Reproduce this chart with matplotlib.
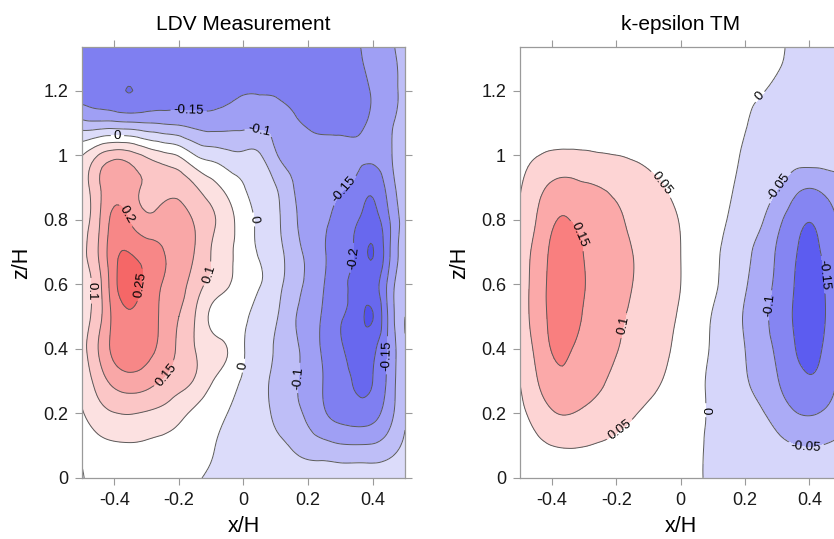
import numpy as np
import matplotlib
matplotlib.use("Agg")
import matplotlib.pyplot as plt
import matplotlib.tri as mtri
from matplotlib.ticker import FuncFormatter

plt.rcParams['font.family'] = ['Liberation Sans', 'DejaVu Sans']
plt.rcParams['axes.unicode_minus'] = False
plt.rcParams['contour.negative_linestyle'] = 'solid'

# grid of the read-off values (x/H across, z/H up)
x_h = [-0.5, -0.45, -0.4, -0.35, -0.3, -0.25, -0.2, -0.15, -0.1, -0.05, 0.0,
       0.05, 0.1, 0.15, 0.2, 0.25, 0.3, 0.35, 0.4, 0.45, 0.5]
z_h = [0.0, 0.1, 0.2, 0.3, 0.4, 0.5, 0.6, 0.7, 0.8, 0.9, 1.0, 1.1, 1.2, 1.3, 1.4]

# LDV measurement, one row per z/H
ldv_z00 = [-0.002, 0.008, 0.012, 0.014, 0.013, 0.011, 0.008, 0.003, -0.004, -0.008, -0.01, -0.011, -0.012, -0.013, -0.013, -0.013, -0.013, -0.013, -0.013, -0.012, -0.008]
ldv_z01 = [0.012, 0.035, 0.044, 0.046, 0.043, 0.037, 0.028, 0.015, 0.003, -0.008, -0.018, -0.026, -0.036, -0.055, -0.075, -0.085, -0.095, -0.097, -0.095, -0.075, -0.04]
ldv_z02 = [0.045, 0.08, 0.098, 0.102, 0.095, 0.085, 0.065, 0.038, 0.015, 0.0, -0.012, -0.03, -0.06, -0.085, -0.11, -0.145, -0.168, -0.178, -0.17, -0.12, -0.055]
ldv_z03 = [0.065, 0.12, 0.165, 0.18, 0.17, 0.145, 0.12, 0.095, 0.055, 0.02, -0.005, -0.03, -0.063, -0.088, -0.12, -0.153, -0.185, -0.205, -0.2, -0.135, -0.055]
ldv_z04 = [0.08, 0.15, 0.215, 0.235, 0.215, 0.185, 0.14, 0.1, 0.075, 0.05, 0.003, -0.025, -0.055, -0.085, -0.12, -0.16, -0.195, -0.215, -0.21, -0.14, -0.055]
ldv_z05 = [0.08, 0.13, 0.215, 0.245, 0.225, 0.19, 0.15, 0.1, 0.04, 0.02, 0.008, -0.02, -0.045, -0.09, -0.12, -0.16, -0.196, -0.225, -0.252, -0.14, -0.05]
ldv_z06 = [0.08, 0.13, 0.235, 0.27, 0.235, 0.198, 0.17, 0.125, 0.085, 0.055, 0.025, 0.002, -0.03, -0.075, -0.11, -0.15, -0.19, -0.215, -0.225, -0.135, -0.055]
ldv_z07 = [0.085, 0.15, 0.235, 0.248, 0.228, 0.203, 0.175, 0.148, 0.099, 0.06, 0.03, -0.005, -0.03, -0.075, -0.11, -0.145, -0.185, -0.21, -0.252, -0.16, -0.07]
ldv_z08 = [0.075, 0.14, 0.215, 0.195, 0.16, 0.168, 0.17, 0.145, 0.11, 0.07, 0.025, -0.01, -0.038, -0.085, -0.12, -0.14, -0.17, -0.195, -0.22, -0.155, -0.075]
ldv_z09 = [0.07, 0.14, 0.185, 0.165, 0.145, 0.14, 0.135, 0.105, 0.07, 0.035, 0.003, -0.025, -0.048, -0.095, -0.12, -0.13, -0.145, -0.165, -0.19, -0.13, -0.065]
ldv_z10 = [0.048, 0.1, 0.13, 0.12, 0.09, 0.065, 0.045, 0.0, -0.02, -0.035, -0.04, -0.046, -0.095, -0.12, -0.13, -0.135, -0.135, -0.14, -0.14, -0.11, -0.05]
ldv_z11 = [-0.085, -0.09, -0.09, -0.095, -0.1, -0.105, -0.11, -0.12, -0.125, -0.12, -0.115, -0.115, -0.12, -0.14, -0.155, -0.16, -0.162, -0.16, -0.14, -0.11, -0.075]
ldv_z12 = [-0.17, -0.175, -0.188, -0.2008, -0.185, -0.175, -0.17, -0.168, -0.165, -0.16, -0.153, -0.153, -0.157, -0.165, -0.172, -0.175, -0.175, -0.167, -0.145, -0.115, -0.09]
ldv_z13 = [-0.17, -0.172, -0.175, -0.175, -0.172, -0.17, -0.17, -0.17, -0.17, -0.17, -0.168, -0.168, -0.17, -0.17, -0.17, -0.17, -0.17, -0.16, -0.13, -0.11, -0.085]
ldv_z14 = [-0.17, -0.17, -0.172, -0.172, -0.17, -0.17, -0.17, -0.17, -0.17, -0.17, -0.168, -0.168, -0.17, -0.17, -0.17, -0.17, -0.168, -0.155, -0.125, -0.105, -0.08]

# k-epsilon turbulence model, one row per z/H
kep_z00 = [0.015, 0.022, 0.027, 0.028, 0.027, 0.024, 0.02, 0.015, 0.011, 0.007, 0.003, 0.001, -0.002, -0.006, -0.01, -0.015, -0.02, -0.025, -0.027, -0.025, -0.021]
kep_z01 = [0.025, 0.04, 0.05, 0.053, 0.051, 0.046, 0.038, 0.028, 0.02, 0.013, 0.007, 0.002, -0.003, -0.01, -0.018, -0.027, -0.038, -0.048, -0.052, -0.048, -0.04]
kep_z02 = [0.038, 0.068, 0.095, 0.102, 0.092, 0.082, 0.07, 0.055, 0.04, 0.028, 0.015, 0.005, -0.005, -0.018, -0.03, -0.045, -0.07, -0.095, -0.104, -0.093, -0.07]
kep_z03 = [0.051, 0.095, 0.13, 0.138, 0.12, 0.105, 0.09, 0.077, 0.063, 0.047, 0.03, 0.012, -0.01, -0.025, -0.045, -0.068, -0.097, -0.128, -0.145, -0.128, -0.085]
kep_z04 = [0.068, 0.11, 0.153, 0.155, 0.135, 0.118, 0.102, 0.087, 0.072, 0.056, 0.04, 0.02, -0.006, -0.025, -0.05, -0.08, -0.108, -0.145, -0.163, -0.143, -0.105]
kep_z05 = [0.075, 0.12, 0.163, 0.175, 0.145, 0.128, 0.11, 0.093, 0.077, 0.062, 0.045, 0.025, -0.003, -0.025, -0.055, -0.085, -0.118, -0.152, -0.172, -0.15, -0.112]
kep_z06 = [0.075, 0.12, 0.165, 0.18, 0.152, 0.133, 0.118, 0.1, 0.083, 0.066, 0.05, 0.03, 0.007, -0.015, -0.045, -0.078, -0.11, -0.148, -0.17, -0.148, -0.11]
kep_z07 = [0.072, 0.115, 0.16, 0.172, 0.148, 0.13, 0.115, 0.1, 0.083, 0.066, 0.05, 0.032, 0.01, -0.012, -0.038, -0.068, -0.105, -0.142, -0.162, -0.14, -0.105]
kep_z08 = [0.058, 0.1, 0.143, 0.151, 0.135, 0.115, 0.105, 0.093, 0.078, 0.063, 0.048, 0.035, 0.018, -0.003, -0.025, -0.045, -0.085, -0.125, -0.148, -0.125, -0.09]
kep_z09 = [0.047, 0.08, 0.11, 0.118, 0.108, 0.1, 0.09, 0.078, 0.065, 0.05, 0.037, 0.026, 0.016, 0.004, -0.012, -0.028, -0.047, -0.08, -0.098, -0.085, -0.065]
kep_z10 = [0.036, 0.048, 0.056, 0.058, 0.056, 0.053, 0.05, 0.045, 0.038, 0.032, 0.025, 0.018, 0.012, 0.005, -0.003, -0.012, -0.022, -0.03, -0.03, -0.03, -0.028]
kep_z11 = [0.025, 0.03, 0.033, 0.034, 0.033, 0.031, 0.029, 0.026, 0.023, 0.02, 0.016, 0.013, 0.009, 0.005, 0.001, -0.005, -0.012, -0.02, -0.024, -0.025, -0.022]
kep_z12 = [0.02, 0.022, 0.024, 0.025, 0.024, 0.023, 0.021, 0.019, 0.017, 0.015, 0.013, 0.011, 0.009, 0.007, 0.004, 0.001, -0.004, -0.01, -0.015, -0.018, -0.017]
kep_z13 = [0.016, 0.018, 0.019, 0.02, 0.019, 0.018, 0.017, 0.016, 0.014, 0.013, 0.012, 0.01, 0.009, 0.007, 0.006, 0.004, 0.0015, -0.003, -0.008, -0.011, -0.011]
kep_z14 = [0.014, 0.015, 0.016, 0.016, 0.016, 0.015, 0.014, 0.013, 0.012, 0.011, 0.01, 0.009, 0.008, 0.007, 0.006, 0.005, 0.002, -0.001, -0.004, -0.007, -0.008]

ldv_levels = [-0.25, -0.2, -0.15, -0.1, -0.05, 0.0, 0.05, 0.1, 0.15, 0.2, 0.25]
kep_levels = [-0.15, -0.1, -0.05, 0.0, 0.05, 0.1, 0.15]

ldv_colors = ['#5252ec', '#6868ee', '#7f7ff1', '#9f9ff4', '#bebef7', '#dcdcfa',
              '#ffffff', '#fce1e1', '#fbc6c6', '#f9a7a7', '#f78787', '#f56767']
kep_colors = ['#5c5cf0', '#8585f2', '#ababf6', '#d6d6fa',
              '#ffffff', '#fdd4d4', '#fba9a9', '#f97f7f']

# (level, x/H, z/H) of the inline labels
ldv_labels = [(-0.15, -0.17, 1.135), (0.0, -0.39, 1.065), (-0.1, 0.045, 1.055),
              (-0.15, 0.30, 0.91), (0.2, -0.37, 0.81), (0.0, 0.028, 0.80),
              (-0.2, 0.31, 0.685), (0.1, -0.117, 0.634), (0.1, -0.47, 0.58),
              (0.25, -0.33, 0.60), (0.15, -0.246, 0.325), (0.0, -0.01, 0.35),
              (-0.1, 0.17, 0.31), (-0.15, 0.448, 0.38)]
kep_labels = [(0.0, 0.258, 1.17), (0.05, -0.06, 0.91), (-0.05, 0.32, 0.89),
              (0.15, -0.33, 0.746), (-0.15, 0.448, 0.63), (-0.1, 0.275, 0.535),
              (0.1, -0.17, 0.47), (0.0, 0.078, 0.21), (0.05, -0.19, 0.15),
              (-0.05, 0.39, 0.10)]

ldv = np.array([ldv_z00, ldv_z01, ldv_z02, ldv_z03, ldv_z04, ldv_z05, ldv_z06, ldv_z07,
                ldv_z08, ldv_z09, ldv_z10, ldv_z11, ldv_z12, ldv_z13, ldv_z14])
kep = np.array([kep_z00, kep_z01, kep_z02, kep_z03, kep_z04, kep_z05, kep_z06, kep_z07,
                kep_z08, kep_z09, kep_z10, kep_z11, kep_z12, kep_z13, kep_z14])


def fmt(v):
    s = f"{v:g}"
    return "0" if s == "-0" else s


def panel(ax, field, levels, colors, labels, title):
    X, Z = np.meshgrid(x_h, z_h)
    tri = mtri.Triangulation(X.ravel(), Z.ravel())
    refiner = mtri.UniformTriRefiner(tri)
    tri_f, v_f = refiner.refine_field(field.ravel(), subdiv=3)
    ax.tricontourf(tri_f, v_f, levels=[-1.0] + levels + [1.0], colors=colors)
    # one line set per level so each label lands on its own level
    for lev in levels:
        cs = ax.tricontour(tri_f, v_f, levels=[lev], colors='#5a5a5a',
                           linewidths=0.7, linestyles='solid')
        pos = [(lx, lz) for l, lx, lz in labels if l == lev]
        if pos and len(cs.allsegs[0]) > 0:
            ax.clabel(cs, manual=pos, fmt=fmt, fontsize=9.5, colors='black',
                      inline=True, inline_spacing=3)
    ax.set_xlim(-0.5, 0.5)
    ax.set_ylim(0, 1.335)
    ax.set_xticks([-0.4, -0.2, 0, 0.2, 0.4])
    ax.set_yticks([0, 0.2, 0.4, 0.6, 0.8, 1.0, 1.2])
    ax.xaxis.set_major_formatter(FuncFormatter(lambda v, p: fmt(round(v, 2))))
    ax.yaxis.set_major_formatter(FuncFormatter(lambda v, p: fmt(round(v, 2))))
    ax.tick_params(direction='out', top=True, right=True, length=5, width=0.8,
                   color='#9a9a9a', labelsize=13, labelcolor='#1a1a1a', pad=5)
    for sp in ax.spines.values():
        sp.set_color('#9a9a9a')
        sp.set_linewidth(0.9)
    ax.set_xlabel('x/H', fontsize=15.5, labelpad=5)
    ax.set_ylabel('z/H', fontsize=15.5, labelpad=8)
    ax.set_title(title, fontsize=15, pad=12)


fig = plt.figure(figsize=(8.34, 5.39), dpi=100)
ax1 = fig.add_axes([0.0983, 0.1132, 0.3873, 0.7996])
ax2 = fig.add_axes([0.6235, 0.1132, 0.3855, 0.7996])

panel(ax1, ldv, ldv_levels, ldv_colors, ldv_labels, 'LDV Measurement')
panel(ax2, kep, kep_levels, kep_colors, kep_labels, 'k-epsilon TM')

fig.savefig('out.png', dpi=100)
